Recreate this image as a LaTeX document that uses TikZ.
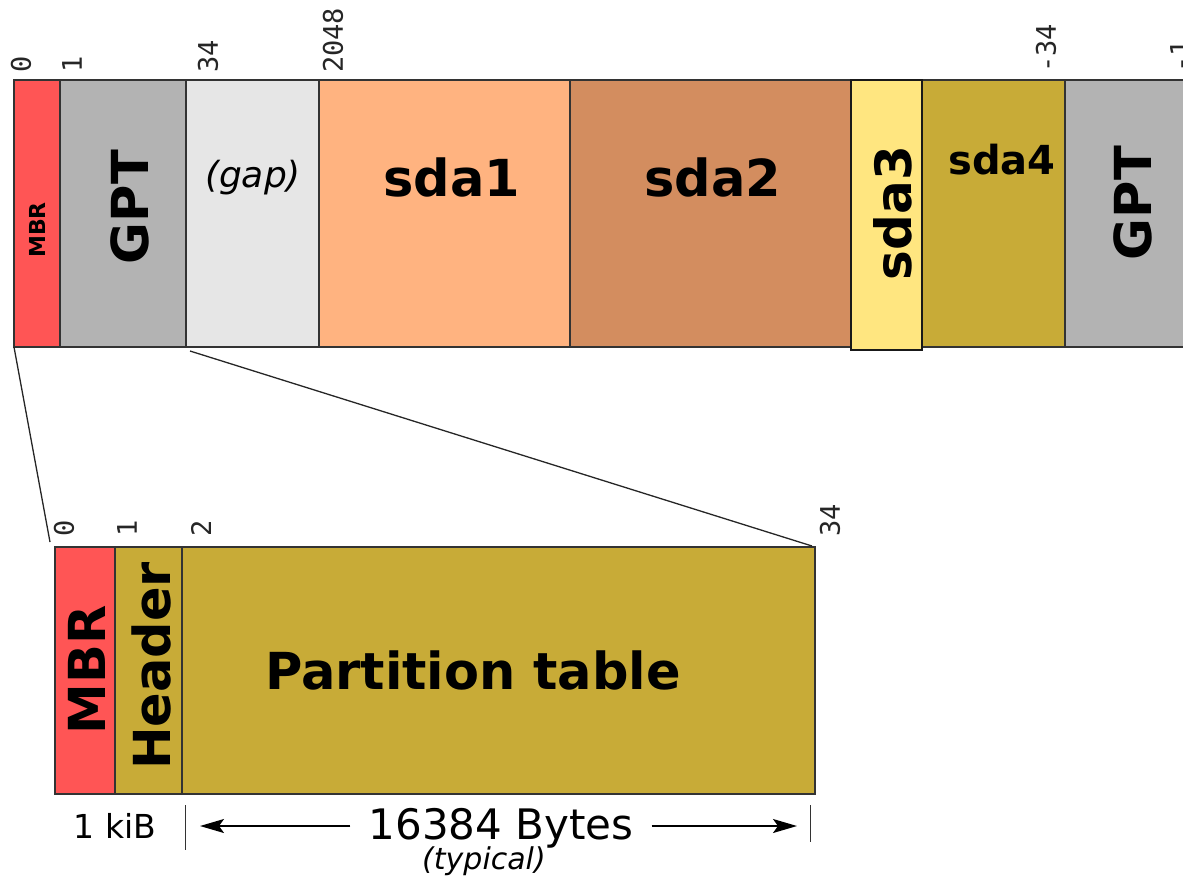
\documentclass[tikz,border=0pt]{standalone}
\usepackage{fontspec}
\setmainfont{DejaVu Sans}
\newfontfamily\monofam{DejaVu Sans Mono}
\usetikzlibrary{arrows.meta,calc}
\definecolor{mbrred}{HTML}{FF5555}
\definecolor{gptgray}{HTML}{B3B3B3}
\definecolor{gapgray}{HTML}{E6E6E6}
\definecolor{sdaone}{HTML}{FFB380}
\definecolor{sdatwo}{HTML}{D38D5F}
\definecolor{sdathree}{HTML}{FFE680}
\definecolor{sdafour}{HTML}{C8AB37}
\tikzset{
  part/.style={draw=black!80, line width=1.2pt, anchor=north west, inner sep=0pt, outer sep=0pt},
  num/.style={font=\monofam\fontsize{27}{27}\selectfont, rotate=90, anchor=west, inner sep=0pt, text=black!85},
  big/.style={font=\bfseries\fontsize{51}{51}\selectfont, inner sep=0pt},
  rbig/.style={big, rotate=90},
  conn/.style={draw=black!85, line width=1.3pt},
  tick/.style={draw=black!80, line width=1pt},
  dimarrow/.style={draw=black, line width=1.6pt, -{Stealth[length=24pt,width=14pt,inset=5pt]}}
}
\begin{document}
\begin{tikzpicture}[x=1pt,y=-1pt]
\clip (0,0) rectangle (1183,884);
% top bar
\node[part, fill=mbrred, minimum width=46pt, minimum height=267pt] (mbr) at (14,80) {};
\node[part, fill=gptgray, minimum width=126pt, minimum height=267pt] (gpt) at (60,80) {};
\node[part, fill=gapgray, minimum width=133pt, minimum height=267pt] (gap) at (186,80) {};
\node[part, fill=sdaone, minimum width=251pt, minimum height=267pt] (sda1) at (319,80) {};
\node[part, fill=sdatwo, minimum width=281pt, minimum height=267pt] (sda2) at (570,80) {};
\node[part, fill=sdafour, minimum width=143pt, minimum height=267pt] (sda4) at (922,80) {};
\node[part, fill=gptgray, minimum width=140pt, minimum height=267pt] (gpt2) at (1065,80) {};
\node[part, draw=black!90, fill=sdathree, minimum width=71pt, minimum height=270pt] (sda3) at (851,80) {};
% top labels
\node[font=\bfseries\fontsize{22}{22}\selectfont, rotate=90, inner sep=0pt] (tmbr) at (37,230) {MBR};
\node[rbig] (tgpt) at (130,207) {GPT};
\node[font=\itshape\fontsize{36}{36}\selectfont, inner sep=0pt] (tgap) at (253,178) {(gap)};
\node[big, anchor=base] (tsda1) at (452,196) {sda1};
\node[big, anchor=base] (tsda2) at (713,196) {sda2};
\node[rbig, font=\bfseries\fontsize{50}{50}\selectfont] (tsda3) at (893,213) {sda3};
\node[big, font=\bfseries\fontsize{40}{40}\selectfont, anchor=base] (tsda4) at (1002,174) {sda4};
\node[rbig] (tgpt2) at (1133,203) {GPT};
% top numbers
\node[num] (n0) at (21,73) {0};
\node[num] (n1) at (72,73) {1};
\node[num] (n34) at (208,73) {34};
\node[num] (n2048) at (333,73) {2048};
\node[num] (nm34) at (1046,73) {-34};
\node[num] (nm1) at (1180,73) {-1};
% bottom bar
\node[part, fill=mbrred, minimum width=60pt, minimum height=247pt] (bmbr) at (55,547) {};
\node[part, fill=sdafour, minimum width=67pt, minimum height=247pt] (header) at (115,547) {};
\node[part, fill=sdafour, minimum width=633pt, minimum height=247pt] (ptable) at (182,547) {};
\node[rbig] (tbmbr) at (87,670) {MBR};
\node[rbig] (theader) at (151,666) {Header};
\node[big, anchor=base] (tptable) at (473,689) {Partition table};
% bottom numbers
\node[num] (b0) at (64,537) {0};
\node[num] (b1) at (127,537) {1};
\node[num] (b2) at (201,537) {2};
\node[num] (b34) at (830,537) {34};
% connectors
\coordinate (c1) at (50,542);
\coordinate (c2) at (190,351);
\coordinate (c3) at (812,546);
\draw[conn] (mbr.south west) -- (c1);
\draw[conn] (c2) -- (c3);
% dimension
\coordinate (t1a) at (185,805);
\coordinate (t1b) at (185,850);
\coordinate (t2a) at (810,805);
\coordinate (t2b) at (810,842);
\draw[tick] (t1a) -- (t1b);
\draw[tick] (t2a) -- (t2b);
\node[font=\fontsize{33}{33}\selectfont, inner sep=0pt] (kib) at (115,826) {1 kiB};
\node[font=\fontsize{42}{42}\selectfont, inner ysep=0pt, inner xsep=18pt] (bytes) at (501,828) {16384 Bytes};
\node[font=\itshape\fontsize{30}{30}\selectfont, inner sep=0pt] (typ) at (484,861) {(typical)};
\coordinate (al) at (200,826);
\coordinate (ar) at (797,826);
\draw[dimarrow] (bytes.west |- al) -- (al);
\draw[dimarrow] (bytes.east |- ar) -- (ar);
\end{tikzpicture}
\end{document}
